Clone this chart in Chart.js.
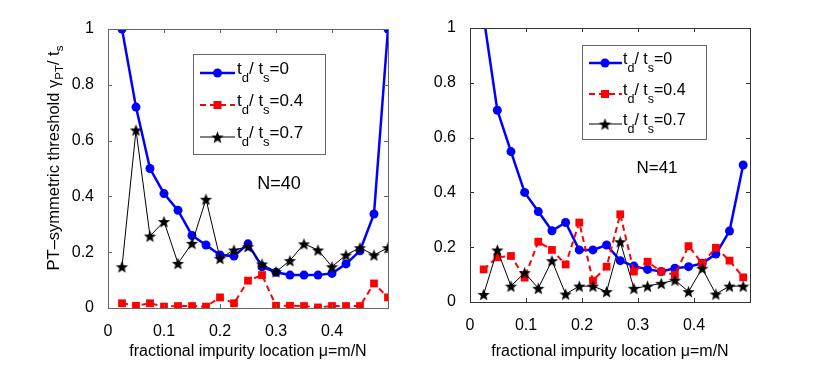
<!DOCTYPE html>
<html lang="en">
<head>
<meta charset="UTF-8">
<title>PT-symmetric threshold vs impurity location</title>
<script src="https://cdn.jsdelivr.net/npm/chart.js"></script>
<style>
  body { margin: 0; background: #fff; }
  #wrap { position: relative; width: 830px; height: 385px; }
  .panel { position: absolute; top: 0; width: 415px; height: 385px; }
</style>
</head>
<body>
<div id="wrap">
  <div class="panel" style="left:0"><canvas id="left" width="415" height="385"></canvas></div>
  <div class="panel" style="left:415px"><canvas id="right" width="415" height="385"></canvas></div>
</div>
<script>
// impurity site index m, mu = m/N
const mIndex = [1, 2, 3, 4, 5, 6, 7, 8, 9, 10, 11, 12, 13, 14, 15, 16, 17, 18, 19, 20];

// N = 40
const blue40  = [1.0, 0.72, 0.50, 0.41, 0.35, 0.26, 0.226, 0.19, 0.186, 0.23, 0.148, 0.128, 0.118, 0.118, 0.118, 0.124, 0.158, 0.205, 0.337, 1.0];
const red40   = [0.017, 0.008, 0.017, 0.005, 0.007, 0.007, 0.005, 0.038, 0.017, 0.098, 0.118, 0.008, 0.008, 0.007, 0.002, 0.007, 0.007, 0.007, 0.088, 0.038];
const black40 = [0.148, 0.638, 0.258, 0.31, 0.16, 0.232, 0.39, 0.178, 0.208, 0.22, 0.158, 0.13, 0.17, 0.23, 0.208, 0.148, 0.19, 0.216, 0.19, 0.216];

// N = 41
const blue41  = [1.04, 0.70, 0.549, 0.40, 0.33, 0.26, 0.29, 0.19, 0.19, 0.208, 0.151, 0.131, 0.119, 0.111, 0.123, 0.129, 0.141, 0.175, 0.259, 0.50];
const red41   = [0.119, 0.163, 0.168, 0.089, 0.22, 0.19, 0.137, 0.29, 0.078, 0.129, 0.32, 0.111, 0.147, 0.111, 0.099, 0.204, 0.141, 0.198, 0.151, 0.09];
const black41 = [0.028, 0.19, 0.058, 0.107, 0.05, 0.151, 0.029, 0.058, 0.058, 0.038, 0.22, 0.05, 0.058, 0.068, 0.08, 0.038, 0.123, 0.029, 0.058, 0.058];

const xTickValues = [0, 0.1, 0.2, 0.3, 0.4];
const xTickLabels = ['0', '0.1', '0.2', '0.3', '0.4'];
const yTickValues = [0, 0.2, 0.4, 0.6, 0.8, 1];
const yTickLabels = ['0', '0.2', '0.4', '0.6', '0.8', '1'];
const ratioLabels = ['0', '0.4', '0.7'];

const FONT = '"Liberation Sans", Arial, Helvetica, sans-serif';
Chart.defaults.font.family = FONT;
Chart.defaults.color = '#000';

function makeStar(r) {
  const c = document.createElement('canvas');
  const s = Math.ceil(r * 2) + 2;
  c.width = s; c.height = s;
  const ctx = c.getContext('2d');
  ctx.translate(s / 2, s / 2 + r * 0.1);
  ctx.beginPath();
  for (let k = 0; k < 10; k++) {
    const rr = k % 2 ? r * 0.42 : r;
    const a = -Math.PI / 2 + k * Math.PI / 5;
    ctx.lineTo(rr * Math.cos(a), rr * Math.sin(a));
  }
  ctx.closePath();
  ctx.fillStyle = '#000';
  ctx.fill();
  return c;
}
const star = makeStar(6.5);

// draw a run of text pieces, some of them subscripts
function drawRich(ctx, x, y, parts, main, sub, subDrop) {
  let w = 0;
  parts.forEach(p => {
    ctx.font = (p[1] ? sub : main) + 'px ' + FONT;
    w += ctx.measureText(p[0]).width;
  });
  let cx = x;
  parts.forEach(p => {
    ctx.font = (p[1] ? sub : main) + 'px ' + FONT;
    ctx.fillText(p[0], cx, y + (p[1] ? subDrop : 0));
    cx += ctx.measureText(p[0]).width;
  });
  return w;
}

function drawLegend(ctx, g) {
  const L = g.legend;
  ctx.save();
  ctx.fillStyle = '#fff';
  ctx.fillRect(L.x, L.y, L.w, L.h);
  ctx.strokeStyle = '#666';
  ctx.lineWidth = 1;
  ctx.strokeRect(L.x + 0.5, L.y + 0.5, L.w, L.h);
  const styles = [
    {color: '#0000ff', width: 2.5, dash: [], mark: 'circle'},
    {color: '#ff0000', width: 2, dash: [6, 4], mark: 'rect'},
    {color: '#000', width: 1, dash: [], mark: 'star'}
  ];
  styles.forEach((s, i) => {
    const y = L.rows[i];
    ctx.strokeStyle = s.color;
    ctx.lineWidth = s.width;
    ctx.setLineDash(s.dash);
    ctx.beginPath();
    ctx.moveTo(L.x1, y); ctx.lineTo(L.x2, y);
    ctx.stroke();
    ctx.setLineDash([]);
    ctx.fillStyle = s.color;
    if (s.mark === 'circle') {
      ctx.beginPath(); ctx.arc(L.mx, y, 4.5, 0, Math.PI * 2); ctx.fill();
    } else if (s.mark === 'rect') {
      ctx.fillRect(L.mx - 4, y - 4, 8, 8);
    } else {
      ctx.drawImage(star, L.mx - star.width / 2, y - star.height / 2);
    }
    ctx.fillStyle = '#000';
    ctx.textBaseline = 'alphabetic';
    ctx.textAlign = 'left';
    drawRich(ctx, L.tx, y + 1, [['t', 0], ['d', 1], ['/ t', 0], ['s', 1], ['=' + ratioLabels[i], 0]], L.font, L.sub, 8);
  });
  ctx.restore();
}

function framePlugin(g) {
  return {
    id: 'frame',
    afterDraw(chart) {
      const ctx = chart.ctx;
      const a = chart.chartArea;
      const xs = chart.scales.x, ys = chart.scales.y;
      ctx.save();
      ctx.strokeStyle = g.frame;
      ctx.lineWidth = 1;
      ctx.strokeRect(Math.round(a.left) + 0.5, Math.round(a.top) + 0.5, Math.round(a.right - a.left), Math.round(a.bottom - a.top));
      ctx.beginPath();
      xTickValues.forEach(v => {
        const px = Math.round(xs.getPixelForValue(v)) + 0.5;
        ctx.moveTo(px, a.bottom); ctx.lineTo(px, a.bottom - 4);
        ctx.moveTo(px, a.top); ctx.lineTo(px, a.top + 4);
      });
      yTickValues.forEach(v => {
        const py = Math.round(ys.getPixelForValue(v)) + 0.5;
        ctx.moveTo(a.left, py); ctx.lineTo(a.left + 4, py);
        ctx.moveTo(a.right, py); ctx.lineTo(a.right - 4, py);
      });
      ctx.stroke();

      drawLegend(ctx, g);

      ctx.fillStyle = '#000';
      ctx.font = g.nFont + 'px ' + FONT;
      ctx.textAlign = 'center';
      ctx.textBaseline = 'middle';
      ctx.fillText(g.nText, g.nX, g.nY);

      if (g.yTitle) {
        ctx.translate(59, 158);
        ctx.rotate(-Math.PI / 2);
        ctx.textAlign = 'left';
        ctx.textBaseline = 'alphabetic';
        const parts = [['PT–symmetric threshold γ', 0], ['PT', 1], ['/ t', 0], ['s', 1]];
        ctx.globalAlpha = 0;
        const w = drawRich(ctx, 0, 0, parts, 16.5, 11.5, 4);
        ctx.globalAlpha = 1;
        drawRich(ctx, -w / 2, 0, parts, 16.5, 11.5, 4);
      }
      ctx.restore();
    }
  };
}

function makeChart(id, N, blue, red, black, g) {
  const mu = mIndex.map(m => m / N);
  const pts = vals => vals.map((v, i) => ({x: mu[i], y: v}));
  return new Chart(document.getElementById(id), {
    type: 'line',
    data: {
      datasets: [
        {label: 'td/ts=0', data: pts(blue), borderColor: '#0000ff', backgroundColor: '#0000ff',
         borderWidth: 2.5, pointStyle: 'circle', pointRadius: 4.5, pointBorderWidth: 0, order: 2, clip: g.blueClip},
        {label: 'td/ts=0.4', data: pts(red), borderColor: '#ff0000', backgroundColor: '#ff0000',
         borderWidth: 2, borderDash: [6, 4], pointStyle: 'rect', pointRadius: 5.5, pointBorderWidth: 0, order: 1},
        {label: 'td/ts=0.7', data: pts(black), borderColor: '#000', backgroundColor: '#000',
         borderWidth: 1, pointStyle: star, pointRadius: 6, order: 0}
      ]
    },
    options: {
      responsive: false,
      animation: false,
      events: [],
      tension: 0,
      layout: {padding: {left: 0, top: g.top, right: g.padR, bottom: 24}},
      plugins: {legend: {display: false}, tooltip: {enabled: false}},
      scales: {
        x: {
          type: 'linear', min: 0, max: 0.5,
          grid: {display: false}, border: {display: false},
          afterBuildTicks: s => { s.ticks = xTickValues.map(v => ({value: v})); },
          afterFit: s => { s.height = g.xH; },
          ticks: {padding: 6, color: '#000', font: {size: 16}, maxRotation: 0,
                  callback: (v, i) => xTickLabels[i]},
          title: {display: true, text: 'fractional impurity location μ=m/N', color: '#000',
                  font: {size: 16}, padding: 0}
        },
        y: {
          type: 'linear', min: 0, max: 1,
          grid: {display: false}, border: {display: false},
          afterBuildTicks: s => { s.ticks = yTickValues.map(v => ({value: v})); },
          afterFit: s => { s.width = g.yW; },
          ticks: {padding: 6, color: '#000', font: {size: 16},
                  callback: (v, i) => yTickLabels[i]}
        }
      }
    },
    plugins: [framePlugin(g)]
  });
}

makeChart('left', 40, blue40, red40, black40, {
  top: 29, padR: 27, yW: 108, xH: 53, frame: '#666', yTitle: true, blueClip: undefined,
  nText: 'N=40', nX: 279, nY: 184, nFont: 18,
  legend: {x: 193, y: 54, w: 132, h: 100, rows: [73, 105, 137], x1: 200, x2: 235, mx: 217.5, tx: 237, font: 17, sub: 13}
});

makeChart('right', 41, blue41, red41, black41, {
  top: 28, padR: 80, yW: 55, xH: 59, frame: '#333', yTitle: false, blueClip: 0,
  nText: 'N=41', nX: 242, nY: 168, nFont: 17,
  legend: {x: 167, y: 45, w: 124, h: 94, rows: [63, 94, 124], x1: 174, x2: 207, mx: 190, tx: 208, font: 16, sub: 12.5}
});
</script>
</body>
</html>
